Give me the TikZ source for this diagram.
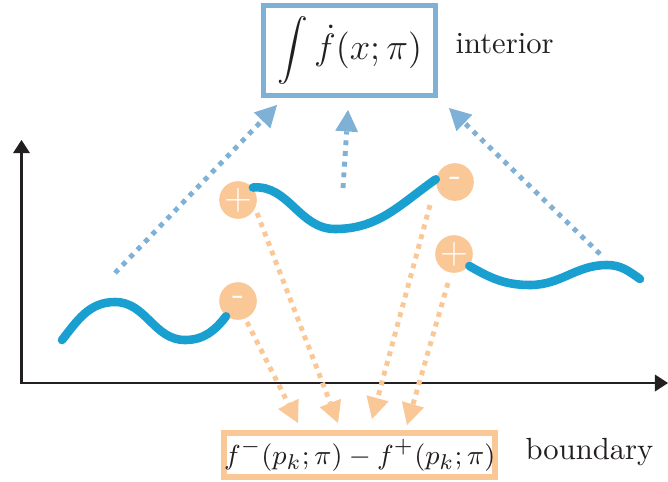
\documentclass[tikz,border=0pt]{standalone}
\usepackage{tikz}
\usetikzlibrary{arrows.meta}
\definecolor{ink}{HTML}{231F20}
\definecolor{curveblue}{HTML}{1AA0D0}
\definecolor{flowblue}{HTML}{7FB0D5}
\definecolor{jumporange}{HTML}{FAC796}

\begin{document}
\begin{tikzpicture}[x=0.3266pt, y=0.3266pt]

  % Default styles
  \tikzset{
    every node/.style={text=ink},
    axis/.style={line width=0.9pt, draw=ink,
      {Triangle[length=4.3pt,width=5.6pt,line width=0pt]}-{Triangle[length=4.3pt,width=5.6pt,line width=0pt]}},
    signal/.style={line width=2.8pt, draw=curveblue, line cap=round},
    sign/.style={circle, fill=jumporange, minimum size=12.3pt, inner sep=0pt,
      text=white, font=\sffamily\large},
    flow/.style={line width=1.6pt, draw=flowblue, dash pattern=on 1.6pt off 1.9pt,
      -{Triangle[length=7pt,width=7.5pt,line width=0pt]}},
    jump/.style={line width=1.6pt, draw=jumporange, dash pattern=on 1.6pt off 1.7pt,
      -{Triangle[length=7pt,width=7.5pt,line width=0pt]}}
  }

  \useasboundingbox (0,0) rectangle (668,481);

  % Axes
  \coordinate (yend) at (21.5,341);
  \coordinate (xend) at (668,98);
  \draw[axis] (yend) |- (xend);

  % Interior term
  \node[
    draw=flowblue,
    line width=1.6pt,
    minimum width=56.3pt,
    minimum height=29.6pt,
    inner sep=0pt
  ] (interior) at (349.7,430.5) {\large$\displaystyle\int \dot f(x;\pi)$};

  \node[anchor=base west, inner sep=0pt] (interior_label) at (455,428) {interior};

  % Boundary term
  \node[
    draw=jumporange,
    line width=1.9pt,
    minimum width=88.2pt,
    minimum height=14.4pt,
    inner sep=0pt,
    font=\fontsize{9.5pt}{11pt}\selectfont
  ] (boundary) at (359.7,26) {$f^{-}(p_k;\pi) - f^{+}(p_k;\pi)$};

  \node[anchor=base west, inner sep=0pt] (boundary_label) at (525,22) {boundary};

  % Jump points
  \node[sign] (m1) at (238,180) {-};
  \node[sign] (p1) at (238,281) {+};
  \node[sign] (m2) at (455,299) {-};
  \node[sign] (p2) at (454,227) {+};

  % Piecewise signal
  \coordinate (cstart) at (62,141);
  \coordinate (cend) at (640,202);
  \draw[signal] (cstart) to[out=52,in=180] (115,179) to[out=0,in=180] (185,141)
    to[out=0,in=232] (m1);
  \draw[signal] (p1.40) to[out=5,in=180] (335,252) to[out=0,in=215] (m2.172);
  \draw[signal] (p2.-38) to[out=-30,in=180] (530,196) to[out=0,in=180] (607,216)
    to[out=0,in=145] (cend);

  % Flow into the interior
  \coordinate (f1s) at (115,208);
  \coordinate (f1e) at (277,376);
  \coordinate (f2s) at (343,293);
  \coordinate (f2e) at (348,371);
  \coordinate (f3s) at (600,227);
  \coordinate (f3e) at (449,373);
  \draw[flow] (f1s) -- (f1e);
  \draw[flow] (f2s) -- (f2e);
  \draw[flow] (f3s) -- (f3e);

  % Jumps down to the boundary
  \coordinate (j1s) at (247,159);
  \coordinate (j1e) at (298,58);
  \coordinate (j2s) at (257,268);
  \coordinate (j2e) at (338,58);
  \coordinate (j3s) at (430,276);
  \coordinate (j3e) at (372,62);
  \coordinate (j4s) at (448,198);
  \coordinate (j4e) at (407,56);
  \draw[jump] (j1s) -- (j1e);
  \draw[jump] (j2s) -- (j2e);
  \draw[jump] (j3s) -- (j3e);
  \draw[jump] (j4s) -- (j4e);

\end{tikzpicture}
\end{document}
